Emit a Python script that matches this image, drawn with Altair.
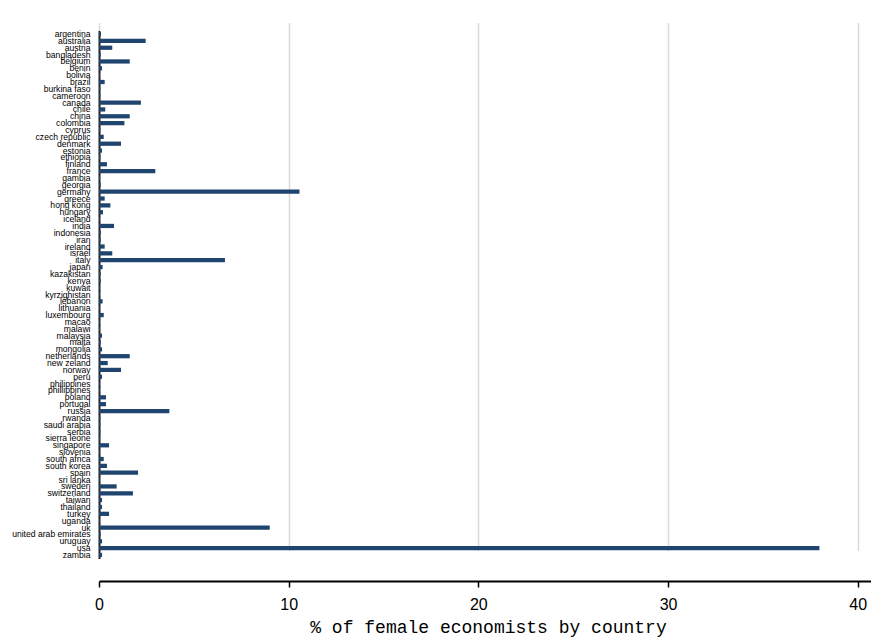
import altair as alt
import pandas as pd

countries = [
    "argentina", "australia", "austria", "bangladesh", "belgium", "benin", "bolivia",
    "brazil", "burkina faso", "cameroon", "canada", "chile", "china", "colombia",
    "cyprus", "czech republic", "denmark", "estonia", "ethiopia", "finland", "france",
    "gambia", "georgia", "germany", "greece", "hong kong", "hungary", "iceland",
    "india", "indonesia", "iran", "ireland", "israel", "italy", "japan", "kazakistan",
    "kenya", "kuwait", "kyrzighistan", "lebanon", "lithuania", "luxembourg", "macao",
    "malawi", "malaysia", "malta", "mongolia", "netherlands", "new zeland", "norway",
    "peru", "philippines", "phillippines", "poland", "portugal", "russia", "rwanda",
    "saudi arabia", "serbia", "sierra leone", "singapore", "slovenia", "south africa",
    "south korea", "spain", "sri lanka", "sweden", "switzerland", "taiwan", "thailand",
    "turkey", "uganda", "uk", "united arab emirates", "uruguay", "usa", "zambia",
]
share = [
    0.10, 2.46, 0.70, 0.09, 1.62, 0.16, 0.04,
    0.30, 0.07, 0.07, 2.21, 0.33, 1.62, 1.34,
    0.07, 0.25, 1.16, 0.16, 0.07, 0.42, 2.97,
    0.05, 0.09, 10.57, 0.30, 0.60, 0.21, 0.05,
    0.79, 0.10, 0.09, 0.30, 0.70, 6.64, 0.19, 0.09,
    0.09, 0.05, 0.05, 0.19, 0.05, 0.25, 0.05,
    0.05, 0.16, 0.09, 0.16, 1.62, 0.46, 1.16,
    0.16, 0.05, 0.05, 0.37, 0.37, 3.71, 0.07,
    0.07, 0.07, 0.05, 0.53, 0.05, 0.25,
    0.42, 2.06, 0.05, 0.93, 1.79, 0.16, 0.16,
    0.53, 0.05, 9.00, 0.09, 0.16, 37.98, 0.16,
]
x_ticks = [0, 10, 20, 30, 40]

df = pd.DataFrame({"country": countries, "share": share})

chart = (
    alt.Chart(df)
    .mark_bar(color="#1f456e")
    .encode(
        y=alt.Y(
            "country:N",
            sort=countries,
            title=None,
            scale=alt.Scale(range=[30.6, 558.4], paddingInner=0.38, paddingOuter=0.19),
            axis=alt.Axis(
                ticks=False,
                tickSize=0,
                labelPadding=9,
                labelFont="Liberation Sans",
                labelFontSize=8.6,
                labelColor="#000000",
                labelLimit=200,
                domainColor="#222222",
                domainWidth=2,
                grid=False,
            ),
        ),
        x=alt.X(
            "share:Q",
            title="% of female economists by country",
            scale=alt.Scale(domain=[0, 40.7], nice=False),
            axis=alt.Axis(
                values=x_ticks,
                format="d",
                labelFont="Liberation Sans",
                labelFontSize=16,
                labelColor="#000000",
                labelPadding=9,
                labelFlush=False,
                tickSize=6,
                tickColor="#000000",
                tickWidth=1.5,
                domainColor="#000000",
                domainWidth=2,
                grid=True,
                gridColor="#dadada",
                gridWidth=1.5,
                titleFont="Liberation Mono",
                titleFontSize=18,
                titleFontWeight="normal",
                titleColor="#000000",
                titlePadding=6,
                titleX=389,
            ),
        ),
    )
    .properties(
        width=772,
        height=581,
        background="#ffffff",
        autosize=alt.AutoSizeParams(type="none"),
        padding={"left": 99, "top": 0, "right": 0, "bottom": 60},
    )
    .configure_view(stroke=None, strokeWidth=0)
)

chart.save("out.html", embed_options={"renderer": "svg", "actions": False})
